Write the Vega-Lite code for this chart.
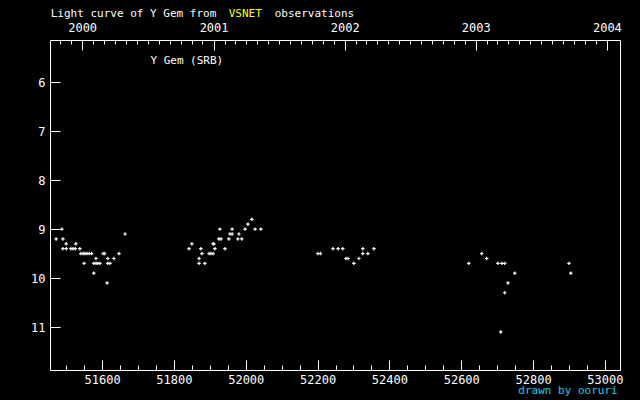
{
  "$schema": "https://vega.github.io/schema/vega-lite/v6.json",
  "width": 570,
  "height": 330,
  "autosize": {"type": "none"},
  "padding": {"left": 50, "top": 40, "right": 20, "bottom": 30},
  "background": "black",
  "config": {
    "view": {"stroke": "white", "strokeWidth": 1, "fill": "black"},
    "axis": {"domain": false, "grid": false, "tickColor": "white", "labelColor": "white", "labelFont": "DejaVu Sans Mono", "labelFontSize": 12, "tickWidth": 1, "title": null}
  },
  "data": {"values": [
    {"jd": 51472, "mag": 9.2}, {"jd": 51488, "mag": 9.0}, {"jd": 51491, "mag": 9.2}, {"jd": 51491, "mag": 9.4},
    {"jd": 51500, "mag": 9.3}, {"jd": 51500, "mag": 9.4}, {"jd": 51513, "mag": 9.4}, {"jd": 51519, "mag": 9.4},
    {"jd": 51525, "mag": 9.4}, {"jd": 51527, "mag": 9.3}, {"jd": 51538, "mag": 9.4}, {"jd": 51541, "mag": 9.5},
    {"jd": 51547, "mag": 9.5}, {"jd": 51550, "mag": 9.7}, {"jd": 51552, "mag": 9.5}, {"jd": 51558, "mag": 9.5},
    {"jd": 51564, "mag": 9.5}, {"jd": 51571, "mag": 9.5}, {"jd": 51577, "mag": 9.7}, {"jd": 51577, "mag": 9.9},
    {"jd": 51583, "mag": 9.6}, {"jd": 51583, "mag": 9.7}, {"jd": 51588, "mag": 9.7}, {"jd": 51594, "mag": 9.7},
    {"jd": 51603, "mag": 9.5}, {"jd": 51607, "mag": 9.5}, {"jd": 51614, "mag": 10.1}, {"jd": 51616, "mag": 9.6},
    {"jd": 51616, "mag": 9.7}, {"jd": 51622, "mag": 9.7}, {"jd": 51633, "mag": 9.6}, {"jd": 51647, "mag": 9.5},
    {"jd": 51664, "mag": 9.1},
    {"jd": 51842, "mag": 9.4}, {"jd": 51850, "mag": 9.3}, {"jd": 51870, "mag": 9.6}, {"jd": 51870, "mag": 9.7},
    {"jd": 51875, "mag": 9.4}, {"jd": 51878, "mag": 9.5}, {"jd": 51886, "mag": 9.7}, {"jd": 51898, "mag": 9.5},
    {"jd": 51903, "mag": 9.5}, {"jd": 51909, "mag": 9.5}, {"jd": 51909, "mag": 9.3}, {"jd": 51911, "mag": 9.3},
    {"jd": 51914, "mag": 9.4}, {"jd": 51925, "mag": 9.2}, {"jd": 51928, "mag": 9.0}, {"jd": 51931, "mag": 9.2},
    {"jd": 51942, "mag": 9.4}, {"jd": 51953, "mag": 9.2}, {"jd": 51956, "mag": 9.1}, {"jd": 51962, "mag": 9.1},
    {"jd": 51962, "mag": 9.0}, {"jd": 51978, "mag": 9.2}, {"jd": 51981, "mag": 9.1}, {"jd": 51989, "mag": 9.2},
    {"jd": 51998, "mag": 9.0}, {"jd": 52006, "mag": 8.9}, {"jd": 52017, "mag": 8.8}, {"jd": 52026, "mag": 9.0},
    {"jd": 52042, "mag": 9.0},
    {"jd": 52201, "mag": 9.5}, {"jd": 52208, "mag": 9.5}, {"jd": 52243, "mag": 9.4}, {"jd": 52257, "mag": 9.4},
    {"jd": 52270, "mag": 9.4}, {"jd": 52279, "mag": 9.6}, {"jd": 52285, "mag": 9.6}, {"jd": 52301, "mag": 9.7},
    {"jd": 52315, "mag": 9.6}, {"jd": 52326, "mag": 9.4}, {"jd": 52326, "mag": 9.5}, {"jd": 52340, "mag": 9.5},
    {"jd": 52357, "mag": 9.4},
    {"jd": 52621, "mag": 9.7}, {"jd": 52657, "mag": 9.5}, {"jd": 52671, "mag": 9.6}, {"jd": 52702, "mag": 9.7},
    {"jd": 52713, "mag": 9.7}, {"jd": 52721, "mag": 9.7}, {"jd": 52721, "mag": 10.3}, {"jd": 52730, "mag": 10.1},
    {"jd": 52749, "mag": 9.9}, {"jd": 52710, "mag": 11.1}, {"jd": 52900, "mag": 9.7}, {"jd": 52905, "mag": 9.9}
  ]},
  "resolve": {"scale": {"x": "independent"}, "axis": {"x": "independent"}},
  "layer": [
    {
      "mark": {"type": "point", "shape": "M-1,0L1,0M0,-1L0,1", "filled": false, "stroke": "white", "strokeWidth": 1.2, "size": 12, "opacity": 1},
      "encoding": {
        "x": {"field": "jd", "type": "quantitative", "scale": {"domain": [51455, 53042], "nice": false, "zero": false},
              "axis": {"orient": "bottom", "values": [51600, 51800, 52000, 52200, 52400, 52600, 52800, 53000], "format": "d", "tickSize": -10, "labelPadding": 14}},
        "y": {"field": "mag", "type": "quantitative", "scale": {"domain": [5.137, 11.878], "reverse": true, "nice": false, "zero": false},
              "axis": {"orient": "left", "values": [6, 7, 8, 9, 10, 11], "format": "d", "tickSize": -10, "labelPadding": 15}}
      }
    },
    {
      "mark": {"type": "point", "opacity": 0},
      "encoding": {
        "x": {"field": "jd", "type": "quantitative", "scale": {"domain": [51455, 53042], "nice": false, "zero": false},
              "axis": {"orient": "top", "values": [51544.5, 51910.5, 52275.5, 52640.5, 53005.5], "labelExpr": "toString(round((datum.value - 51544.5) / 365.25) + 2000)", "tickSize": -10, "labelPadding": 15.5}}
      }
    },
    {
      "mark": {"type": "point", "opacity": 0},
      "encoding": {
        "x": {"field": "jd", "type": "quantitative", "scale": {"domain": [51455, 53042], "nice": false, "zero": false},
              "axis": {"orient": "top", "labels": false, "tickSize": -4, "values": [51483.5, 51513.5, 51575.5, 51604.5, 51635.5, 51665.5, 51696.5, 51726.5, 51757.5, 51788.5, 51818.5, 51849.5, 51879.5, 51941.5, 51969.5, 52000.5, 52030.5, 52061.5, 52091.5, 52122.5, 52153.5, 52183.5, 52214.5, 52244.5, 52306.5, 52334.5, 52365.5, 52395.5, 52426.5, 52456.5, 52487.5, 52518.5, 52548.5, 52579.5, 52609.5, 52671.5, 52699.5, 52730.5, 52760.5, 52791.5, 52821.5, 52852.5, 52883.5, 52913.5, 52944.5, 52974.5]}}
      }
    },
    {
      "mark": {"type": "point", "opacity": 0},
      "encoding": {
        "x": {"field": "jd", "type": "quantitative", "scale": {"domain": [51455, 53042], "nice": false, "zero": false},
              "axis": {"orient": "bottom", "labels": false, "tickSize": -5, "values": [51500, 51550, 51650, 51700, 51750, 51850, 51900, 51950, 52050, 52100, 52150, 52250, 52300, 52350, 52450, 52500, 52550, 52650, 52700, 52750, 52850, 52900, 52950]}}
      }
    },
    {
      "data": {"values": [{}]},
      "mark": {"type": "text", "text": "Light curve of Y Gem from", "color": "white", "font": "DejaVu Sans Mono", "fontSize": 11, "align": "left", "baseline": "alphabetic", "clip": false},
      "encoding": {
        "x": {"datum": 51457, "type": "quantitative", "scale": {"domain": [51455, 53042], "nice": false, "zero": false}, "axis": null},
        "y": {"datum": 4.667, "type": "quantitative", "scale": {"domain": [5.137, 11.878], "reverse": true, "nice": false, "zero": false}}
      }
    },
    {
      "data": {"values": [{}]},
      "mark": {"type": "text", "text": "VSNET", "color": "#ffff00", "font": "DejaVu Sans Mono", "fontSize": 11, "align": "left", "baseline": "alphabetic", "clip": false},
      "encoding": {
        "x": {"datum": 51952.5, "type": "quantitative", "scale": {"domain": [51455, 53042], "nice": false, "zero": false}, "axis": null},
        "y": {"datum": 4.667, "type": "quantitative", "scale": {"domain": [5.137, 11.878], "reverse": true, "nice": false, "zero": false}}
      }
    },
    {
      "data": {"values": [{}]},
      "mark": {"type": "text", "text": "observations", "color": "white", "font": "DejaVu Sans Mono", "fontSize": 11, "align": "left", "baseline": "alphabetic", "clip": false},
      "encoding": {
        "x": {"datum": 52080.6, "type": "quantitative", "scale": {"domain": [51455, 53042], "nice": false, "zero": false}, "axis": null},
        "y": {"datum": 4.667, "type": "quantitative", "scale": {"domain": [5.137, 11.878], "reverse": true, "nice": false, "zero": false}}
      }
    },
    {
      "data": {"values": [{}]},
      "mark": {"type": "text", "text": "Y Gem (SRB)", "color": "white", "font": "DejaVu Sans Mono", "fontSize": 11, "align": "left", "baseline": "alphabetic", "clip": false},
      "encoding": {
        "x": {"datum": 51734.5, "type": "quantitative", "scale": {"domain": [51455, 53042], "nice": false, "zero": false}, "axis": null},
        "y": {"datum": 5.621, "type": "quantitative", "scale": {"domain": [5.137, 11.878], "reverse": true, "nice": false, "zero": false}}
      }
    },
    {
      "data": {"values": [{}]},
      "mark": {"type": "text", "text": "drawn by ooruri", "color": "#20c8f0", "font": "DejaVu Sans Mono", "fontSize": 11, "align": "right", "baseline": "alphabetic", "clip": false},
      "encoding": {
        "x": {"datum": 53035.6, "type": "quantitative", "scale": {"domain": [51455, 53042], "nice": false, "zero": false}, "axis": null},
        "y": {"datum": 12.368, "type": "quantitative", "scale": {"domain": [5.137, 11.878], "reverse": true, "nice": false, "zero": false}}
      }
    }
  ]
}
